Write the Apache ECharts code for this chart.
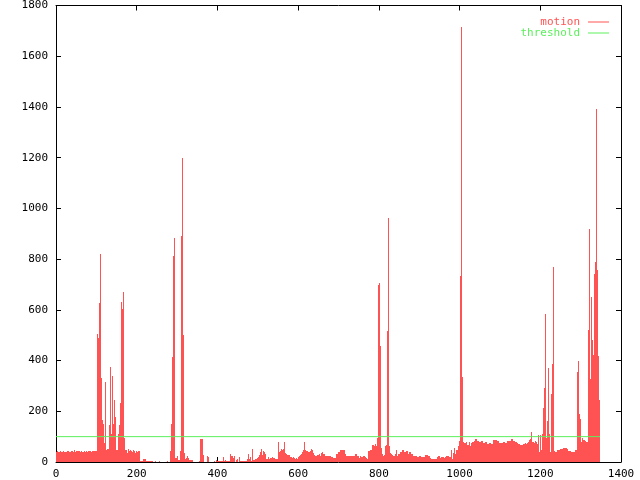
<!DOCTYPE html>
<html><head><meta charset="utf-8">
<script src="https://cdn.jsdelivr.net/npm/echarts@6/dist/echarts.min.js"></script>
<style>html,body{margin:0;padding:0;background:#fff}#c{width:640px;height:480px}</style>
</head><body><div id="c"></div>
<script>
// x axis (frame number) and y axis (motion) ticks
const xTickValues = [0, 200, 400, 600, 800, 1000, 1200, 1400];
const yTickValues = [0, 200, 400, 600, 800, 1000, 1200, 1400, 1600, 1800];
// each motion sample covers one bin of frames of this width
const framesPerSample = 2.478;
// motion per bin (bin 0 starts at frame 0)
const motion = [
  41,43,41,41,43,41,41,43,41,41,
  41,43,43,41,41,43,42,41,47,41,
  42,42,42,43,41,43,41,41,43,41,
  44,41,45,42,43,41,43,42,43,43,
  43,505,490,625,820,330,165,150,75,315,
  49,50,50,147,375,112,341,149,245,177,
  49,49,112,147,234,632,602,672,93,49,
  47,36,51,42,49,43,41,47,42,36,
  43,41,45,42,2,2,2,11,11,11,
  5,2,2,2,5,2,2,1,1,2,
  1,1,1,2,1,1,1,1,1,1,
  1,2,1,1,45,148,414,811,884,16,
  16,22,6,6,45,890,1197,502,37,12,
  14,22,14,8,6,6,6,1,1,1,
  1,1,1,5,89,91,91,28,1,1,
  1,24,20,1,1,1,1,1,5,1,
  8,5,5,5,2,2,2,20,2,8,
  2,2,2,2,33,24,24,16,22,1,
  8,12,1,20,4,4,4,4,4,4,
  4,12,33,12,20,4,51,8,8,12,
  12,16,20,28,41,51,28,45,41,33,
  12,12,20,12,16,16,20,16,16,12,
  12,12,77,41,45,51,47,51,77,37,
  33,28,28,28,20,20,16,20,16,12,
  16,12,20,24,28,33,41,49,77,49,
  45,45,41,41,45,51,47,37,28,24,
  24,28,28,33,25,35,40,30,30,25,
  25,25,25,22,22,20,20,17,17,17,
  30,30,38,38,49,49,46,46,46,33,
  25,22,22,25,25,22,22,22,22,33,
  30,22,22,17,25,20,20,25,25,20,
  17,11,43,43,49,49,69,69,62,72,
  62,95,698,706,459,54,30,22,28,62,
  66,518,963,65,36,30,26,22,22,33,
  49,22,30,30,38,38,46,46,38,38,
  43,43,33,38,38,30,30,22,22,25,
  25,20,20,22,22,20,18,20,18,28,
  28,28,22,22,15,11,11,11,11,11,
  11,20,24,24,14,20,20,20,16,20,
  24,24,24,20,18,49,10,35,54,30,
  49,49,65,81,732,1717,334,78,75,75,
  78,69,69,78,65,75,78,78,82,89,
  89,83,83,78,78,81,81,73,73,78,
  78,70,70,73,73,70,70,86,86,86,
  86,81,81,75,75,73,73,78,78,73,
  73,81,81,83,83,91,91,81,81,78,
  78,75,72,70,68,66,68,72,70,74,
  72,76,80,85,89,117,78,80,76,82,
  77,70,108,40,108,46,111,213,290,585,
  95,161,372,112,40,270,388,770,43,40,
  40,46,46,46,51,51,51,57,57,57,
  57,51,43,43,43,40,40,40,40,46,
  46,355,399,191,171,77,95,87,87,82,
  77,77,522,920,329,652,483,421,743,790,
  1390,756,417,246
];
const thresholdValue = 100;
const seriesNames = ['motion', 'threshold'];

const RED = '#ff5252';
const GREEN = '#5cf05c';
const FONT = 'DejaVu Sans Mono';

// [binStart, binEnd, value]
const motionData = motion.map((v, i) => [i * framesPerSample, (i + 1) * framesPerSample, v]);
const lastFrame = motion.length * framesPerSample;
const thresholdData = [[0, thresholdValue], [lastFrame, thresholdValue]];

const axisCommon = {
  type: 'value',
  axisLine: { show: true, onZero: false, lineStyle: { color: '#000', width: 1 } },
  axisTick: { show: true, inside: true, length: 5, lineStyle: { color: '#000', width: 1 } },
  splitLine: { show: false },
  minorTick: { show: false }
};
const xMin = xTickValues[0], xMax = xTickValues[xTickValues.length - 1];
const xInt = xTickValues[1] - xTickValues[0];
const yMin = yTickValues[0], yMax = yTickValues[yTickValues.length - 1];
const yInt = yTickValues[1] - yTickValues[0];
const plain = v => String(v);

const chart = echarts.init(document.getElementById('c'), null, { renderer: 'canvas' });
chart.setOption({
  animation: false,
  backgroundColor: '#fff',
  grid: { left: 56, right: 19, top: 5, bottom: 18, containLabel: false },
  legend: [
    {
      data: [{ name: seriesNames[0], textStyle: { color: RED } }],
      right: 26, top: 11, orient: 'vertical', align: 'right',
      icon: 'rect', itemWidth: 21, itemHeight: 1, selectedMode: false,
      textStyle: { fontFamily: FONT, fontSize: 11, lineHeight: 12, padding: [0, 3, 0, 0] }
    },
    {
      data: [{ name: seriesNames[1], textStyle: { color: GREEN } }],
      right: 26, top: 22, orient: 'vertical', align: 'right',
      icon: 'rect', itemWidth: 21, itemHeight: 1, selectedMode: false,
      textStyle: { fontFamily: FONT, fontSize: 11, lineHeight: 12, padding: [0, 3, 0, 0] }
    }
  ],
  xAxis: [
    Object.assign({}, axisCommon, {
      position: 'bottom', min: xMin, max: xMax, interval: xInt,
      axisLabel: { color: '#000', fontFamily: FONT, fontSize: 11, margin: 7, formatter: plain }
    }),
    Object.assign({}, axisCommon, {
      position: 'top', min: xMin, max: xMax, interval: xInt,
      axisLabel: { show: false }
    })
  ],
  yAxis: [
    Object.assign({}, axisCommon, {
      position: 'left', min: yMin, max: yMax, interval: yInt,
      axisLabel: { color: '#000', fontFamily: FONT, fontSize: 11, margin: 8, formatter: plain }
    }),
    Object.assign({}, axisCommon, {
      position: 'right', min: yMin, max: yMax, interval: yInt,
      axisLabel: { show: false }
    })
  ],
  series: [
    {
      name: seriesNames[0], type: 'custom', data: motionData,
      xAxisIndex: 0, yAxisIndex: 0,
      encode: { x: [0, 1], y: 2 },
      itemStyle: { color: RED },
      renderItem: function (params, api) {
        const top = api.coord([api.value(0), api.value(2)]);
        const bottom = api.coord([api.value(1), 0]);
        const x0 = Math.round(top[0]), x1 = Math.round(bottom[0]);
        const y0 = Math.round(top[1]), y1 = Math.round(bottom[1]);
        return {
          type: 'rect',
          shape: { x: x0, y: y0, width: x1 - x0, height: y1 - y0 },
          style: { fill: RED, stroke: null }
        };
      },
      silent: true, z: 2
    },
    {
      name: seriesNames[1], type: 'line', data: thresholdData,
      xAxisIndex: 0, yAxisIndex: 0,
      showSymbol: false, symbol: 'none',
      itemStyle: { color: GREEN },
      lineStyle: { color: GREEN, width: 1 },
      emphasis: { disabled: true }, silent: true, z: 3
    }
  ]
});
</script>
</body></html>
